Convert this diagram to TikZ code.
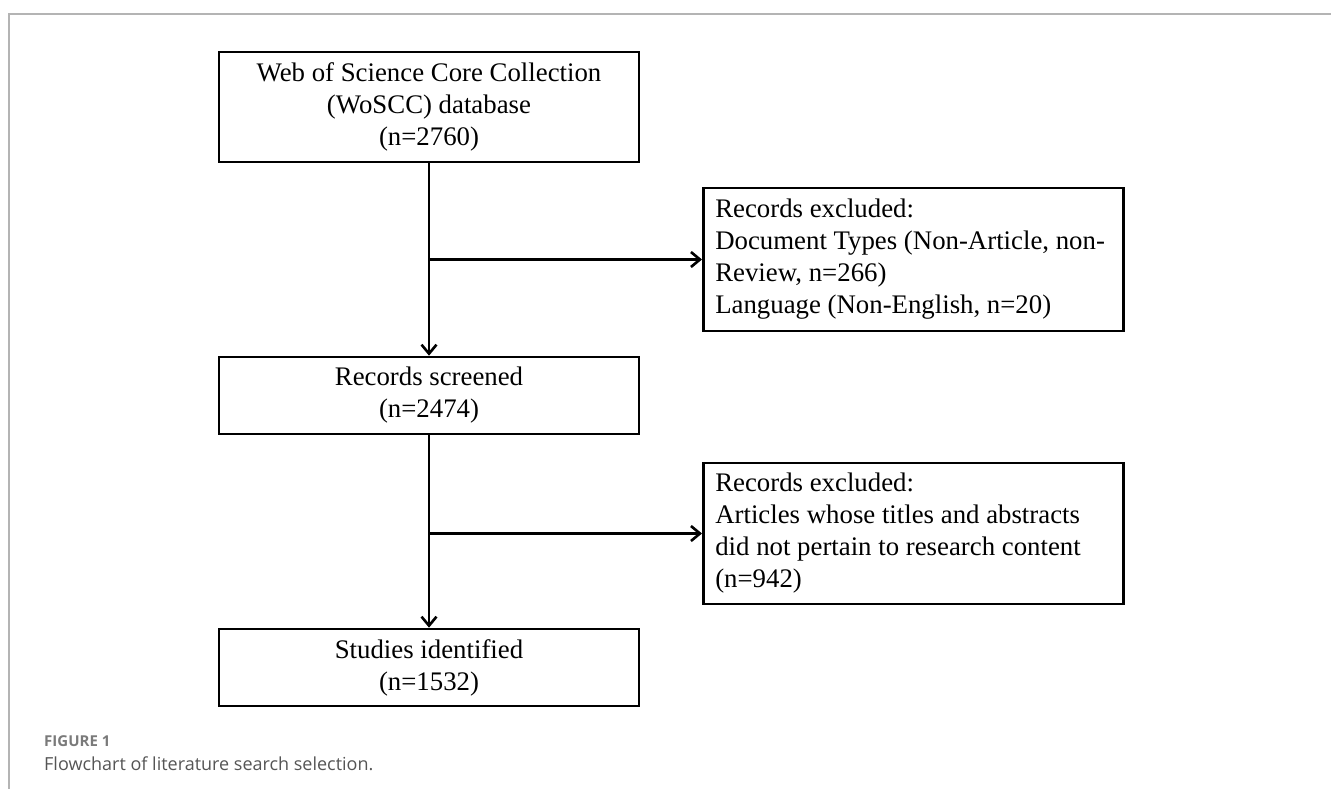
\documentclass[tikz,border=0pt]{standalone}
\usepackage{fontspec}
\setmainfont{Liberation Serif}
\newfontfamily\capfont{Open Sans}
\usetikzlibrary{arrows.meta}
\definecolor{framegray}{HTML}{B4B4B4}
\definecolor{figgray}{HTML}{7A7A7A}
\definecolor{capgray}{HTML}{555555}
\begin{document}
\begin{tikzpicture}[x=1pt,y=-1pt,
  boxfont/.style={font=\fontsize{26.8}{32}\selectfont},
  box/.style={draw=black, line width=2.6pt, minimum width=420pt, inner sep=0pt, align=center, boxfont},
  exbox/.style={draw=black, line width=2.6pt, text width=404pt, inner xsep=8pt, inner ysep=0pt, align=flush left, anchor=west, boxfont},
  conn/.style={line width=2.6pt, -{Straight Barb[length=9pt,width=15pt,line width=2.6pt]}},
  frameline/.style={draw=framegray, line width=2pt}]
\useasboundingbox (0,0) rectangle (1331,789);
\draw[frameline] (9,789) -- (9,14) -- (1331,14);

\node[box, minimum height=110pt] (wos) at (429,107) {Web of Science Core Collection\\(WoSCC) database\\(n=2760)};
\node[box, minimum height=77pt] (scr) at (429,395.5) {Records screened\\(n=2474)};
\node[box, minimum height=77pt] (stu) at (429,667.5) {Studies identified\\(n=1532)};
\node[exbox, minimum height=143pt] (ex1) at (702,259.5) {\hspace*{4pt}Records excluded:\\\hspace*{4pt}Document Types (Non-Article, non-\\\hspace*{4pt}Review, n=266)\\\hspace*{4pt}Language (Non-English, n=20)};
\node[exbox, minimum height=141pt] (ex2) at (702,533.5) {\hspace*{4pt}Records excluded:\\\hspace*{4pt}Articles whose titles and abstracts\\\hspace*{4pt}did not pertain to research content\\\hspace*{4pt}(n=942)};

\draw[conn] (wos.south) -- (scr.north);
\draw[conn] (scr.south) -- (stu.north);
\coordinate (j1) at (wos.south |- ex1.west);
\coordinate (j2) at (scr.south |- ex2.west);
\draw[conn] (j1) -- (ex1.west);
\draw[conn] (j2) -- (ex2.west);

\node[anchor=west, inner sep=0pt, text=figgray, font=\capfont\bfseries\fontsize{15}{18}\selectfont] (fig) at (44,741) {FIGURE 1};
\node[anchor=west, inner sep=0pt, text=capgray, font=\capfont\fontsize{18}{22}\selectfont] (cap) at (44,764) {Flowchart of literature search selection.};
\end{tikzpicture}
\end{document}
